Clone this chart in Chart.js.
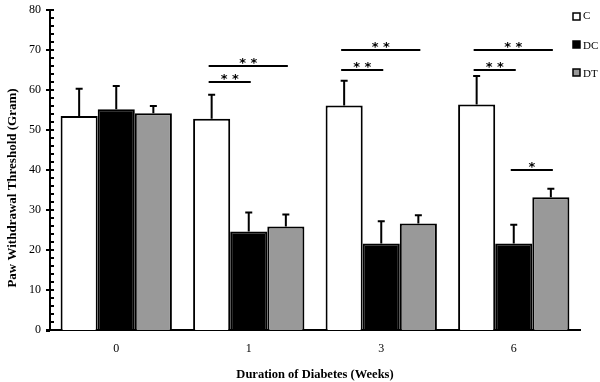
<!DOCTYPE html>
<html><head><meta charset="utf-8">
<script src="https://cdn.jsdelivr.net/npm/chart.js@4"></script>
<style>html,body{margin:0;padding:0;background:#fff}</style>
</head><body>
<canvas id="c" width="600" height="382"></canvas>
<script>
const categories = ['0', '1', '3', '6'];
const seriesNames = ['C', 'DC', 'DT'];
const cValues  = [53.5, 52.8, 56.1, 56.4];
const dcValues = [55.2, 24.6, 21.6, 21.6];
const dtValues = [54.2, 25.9, 26.6, 33.2];
const cErrors  = [6.8, 6.0, 6.2, 7.1];
const dcErrors = [5.8, 4.8, 5.6, 4.7];
const dtErrors = [1.8, 3.0, 2.1, 2.1];
// significance brackets
const sigCategory = [1, 1, 2, 2, 3, 3, 3];
const sigFrom     = [0, 0, 0, 0, 0, 0, 1];
const sigTo       = [1, 2, 1, 2, 1, 2, 2];
const sigY        = [62, 66, 65, 70, 65, 70, 40];
const sigLabel    = ['**', '**', '**', '**', '**', '**', '*'];
const yMajorTicks = [0, 10, 20, 30, 40, 50, 60, 70, 80];
const xTitle = 'Duration of Diabetes (Weeks)';
const yTitle = 'Paw Withdrawal Threshold (Gram)';

const fills = ['#ffffff', '#000000', '#999999'];
const errs = [cErrors, dcErrors, dtErrors];
const SERIF = '"Liberation Serif", "DejaVu Serif", serif';

const extras = {
  id: 'extras',
  afterDatasetsDraw(chart) {
    const ctx = chart.ctx;
    const y = chart.scales.y;
    const area = chart.chartArea;
    ctx.save();
    ctx.strokeStyle = '#000';
    ctx.fillStyle = '#000';
    // error bars
    ctx.lineWidth = 2;
    chart.data.datasets.forEach((ds, di) => {
      const meta = chart.getDatasetMeta(di);
      meta.data.forEach((bar, i) => {
        const v = ds.data[i];
        const top = y.getPixelForValue(v);
        const et = y.getPixelForValue(v + errs[di][i]);
        ctx.beginPath();
        ctx.moveTo(bar.x, top);
        ctx.lineTo(bar.x, et);
        ctx.moveTo(bar.x - 3.5, et);
        ctx.lineTo(bar.x + 3.5, et);
        ctx.stroke();
      });
    });
    // significance lines
    ctx.textAlign = 'center';
    ctx.textBaseline = 'alphabetic';
    ctx.font = 'bold 13px "DejaVu Sans", sans-serif';
    for (let k = 0; k < sigY.length; k++) {
      const b1 = chart.getDatasetMeta(sigFrom[k]).data[sigCategory[k]];
      const b2 = chart.getDatasetMeta(sigTo[k]).data[sigCategory[k]];
      const x1 = b1.x - 3, x2 = b2.x + 2;
      const py = y.getPixelForValue(sigY[k]);
      ctx.lineWidth = 2;
      ctx.beginPath();
      ctx.moveTo(x1, py);
      ctx.lineTo(x2, py);
      ctx.stroke();
      ctx.fillText(sigLabel[k].split('').join(' '), (x1 + x2) / 2, py + 1);
    }
    // y axis ticks (major and minor)
    const ax = area.left;
    ctx.lineWidth = 2;
    for (let v = 0; v <= 80; v += 2) {
      const py = y.getPixelForValue(v);
      ctx.beginPath();
      if (v % 10 === 0) { ctx.moveTo(ax - 4, py); } else { ctx.moveTo(ax, py); }
      ctx.lineTo(ax + 4, py);
      ctx.stroke();
    }
    // extend x axis a little to the left
    ctx.beginPath();
    ctx.moveTo(ax - 4, area.bottom + 1);
    ctx.lineTo(ax, area.bottom + 1);
    ctx.stroke();
    // legend
    ctx.font = '11px ' + SERIF;
    ctx.textAlign = 'left';
    ctx.textBaseline = 'alphabetic';
    chart.data.datasets.forEach((ds, di) => {
      const bx = 573, by = 13 + 28 * di;
      ctx.fillStyle = fills[di];
      ctx.fillRect(bx, by, 7, 7);
      ctx.lineWidth = 1.5;
      ctx.strokeRect(bx, by, 7, 7);
      ctx.fillStyle = '#000';
      ctx.fillText(ds.label, 583, by + (di === 0 ? 6 : 8));
    });
    // y title
    ctx.save();
    ctx.translate(13, 188);
    ctx.rotate(-Math.PI / 2);
    ctx.font = 'bold 13px ' + SERIF;
    ctx.textAlign = 'center';
    ctx.textBaseline = 'middle';
    ctx.fillText(yTitle, 0, 0);
    ctx.restore();
    ctx.restore();
  }
};

new Chart(document.getElementById('c'), {
  type: 'bar',
  data: {
    labels: categories,
    datasets: [
      { label: seriesNames[0], data: cValues, backgroundColor: fills[0] },
      { label: seriesNames[1], data: dcValues, backgroundColor: fills[1] },
      { label: seriesNames[2], data: dtValues, backgroundColor: fills[2] }
    ]
  },
  options: {
    responsive: false,
    devicePixelRatio: 1,
    animation: false,
    layout: { padding: { left: 3, right: 20, top: 10, bottom: 0 } },
    datasets: { bar: { borderColor: '#000', borderWidth: 2, categoryPercentage: 0.84, barPercentage: 1 } },
    plugins: { legend: { display: false }, tooltip: { enabled: false } },
    scales: {
      x: {
        grid: { display: false },
        border: { color: '#000', width: 2 },
        ticks: { color: '#000', font: { family: SERIF, size: 12 }, padding: 4 },
        title: { display: true, text: xTitle, color: '#000', font: { family: SERIF, size: 12.5, weight: 'bold' }, padding: { top: 4, bottom: 0 } },
        afterFit(s) { s.height = 52; }
      },
      y: {
        min: 0, max: 80,
        afterBuildTicks(s) { s.ticks = yMajorTicks.map(v => ({ value: v })); },
        grid: { display: false },
        border: { color: '#000', width: 2 },
        ticks: { color: '#000', font: { family: SERIF, size: 12 }, padding: 1 },
        afterFit(s) { s.width = 47; }
      }
    }
  },
  plugins: [extras]
});
</script>
</body></html>
